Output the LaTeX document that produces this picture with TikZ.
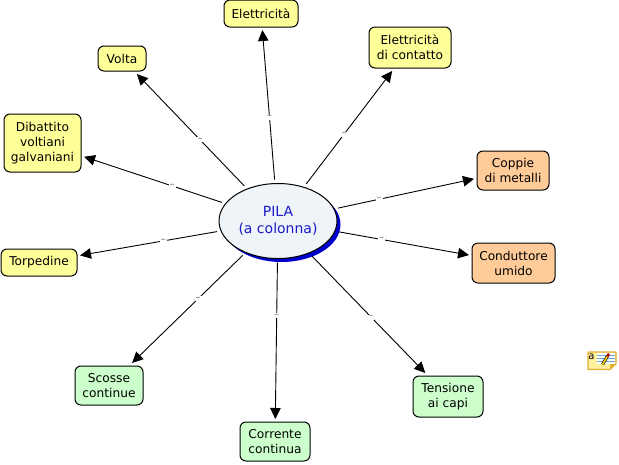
\documentclass[tikz,border=0pt]{standalone}
\usepackage{fontspec}
\setmainfont{DejaVu Sans}
\usetikzlibrary{arrows.meta,calc,shapes.geometric}
\definecolor{yel}{HTML}{FFFF99}
\definecolor{ora}{HTML}{FFCC99}
\definecolor{gre}{HTML}{CCFFCC}
\definecolor{ell}{HTML}{EEF4F7}
\definecolor{pblue}{HTML}{0000CC}
\definecolor{ptext}{HTML}{1A1ACC}
\definecolor{iconedge}{HTML}{E0B030}
\definecolor{iconfill}{HTML}{FFF0A0}
\definecolor{iconline}{HTML}{6FA8DC}
\tikzset{
  concept/.style={draw=black,line width=1pt,rounded corners=6pt,align=center,inner sep=0pt,outer sep=3pt,font=\fontsize{12.2}{15}\selectfont,text=black},
  yelbox/.style={concept,fill=yel},
  orabox/.style={concept,fill=ora},
  grebox/.style={concept,fill=gre},
  link/.style={draw=black,line width=.9pt,-{Triangle[length=11pt,width=10.5pt]}},
  lab/.style={fill=white,inner xsep=1pt,inner ysep=0pt,font=\fontsize{10}{4}\selectfont,text=black!55,text height=4pt,text depth=1pt}
}
\begin{document}
\begin{tikzpicture}[x=1pt,y=-1pt]
\useasboundingbox (0,0) rectangle (619,464);
\node[ellipse,fill=pblue,minimum width=118pt,minimum height=75pt,inner sep=0pt] (sh) at (281.5,224.5) {};
\node[ellipse,draw=black,line width=1pt,fill=ell,minimum width=118pt,minimum height=75pt,inner sep=0pt,outer sep=4pt,align=center,text=ptext,font=\fontsize{14}{17}\selectfont] (c) at (278,221) {PILA\\(a colonna)};
\node[yelbox,minimum width=74pt,minimum height=27pt] (a) at (261,13.5) {Elettricità};
\node[yelbox,minimum width=48pt,minimum height=25pt] (b) at (122,58.5) {Volta};
\node[yelbox,minimum width=82pt,minimum height=41pt] (d) at (410,47.5) {Elettricità\\di contatto};
\node[yelbox,minimum width=77pt,minimum height=58pt] (e) at (42.5,143) {Dibattito\\voltiani\\galvaniani};
\node[orabox,minimum width=72pt,minimum height=39pt] (f) at (513,170.5) {Coppie\\di metalli};
\node[orabox,minimum width=83pt,minimum height=40pt] (g) at (513.5,263) {Conduttore\\umido};
\node[yelbox,minimum width=76pt,minimum height=27pt] (h) at (39,262.5) {Torpedine};
\node[grebox,minimum width=68pt,minimum height=39pt] (i) at (109,385.5) {Scosse\\continue};
\node[grebox,minimum width=70pt,minimum height=39pt] (j) at (275,441.5) {Corrente\\continua};
\node[grebox,minimum width=70pt,minimum height=41pt] (k) at (448,396.5) {Tensione\\ai capi};
\foreach \t/\p in {a/.5,b/.5,d/.5,e/.45,f/.43,g/.44,h/.48,i/.473,j/.43,k/.547}{
  \draw[link] (c) -- (\t);
  \node[lab] (l\t) at ($(c)!\p!(\t)$) {–};
}
% note icon
\draw[draw=iconedge,fill=iconfill,line width=1.1pt,line join=round] (588,352) -- (616,352) -- (616,364) -- (610,369.5) -- (588,369.5) -- cycle;
\fill[iconedge] (610,369.5) -- (610,364) -- (616,364) -- cycle;
\fill[white] (596.5,353) rectangle (615,363.5);
\foreach \yy in {355,358,361}
  \draw[iconline,line width=.9pt] (596.5,\yy) -- (615,\yy);
\node[inner sep=0pt,font=\fontsize{10}{10}\selectfont] (ic) at (591.5,356.5) {a};
\draw[black,line width=3pt] (602.5,364.5) -- (607.5,356);
\draw[yellow!80!orange,line width=1.6pt] (602.5,364.5) -- (607.5,356);
\fill[red!70!black] (606,356) -- (608,353) -- (610,354.5) -- (608.5,357) -- cycle;
\end{tikzpicture}
\end{document}
